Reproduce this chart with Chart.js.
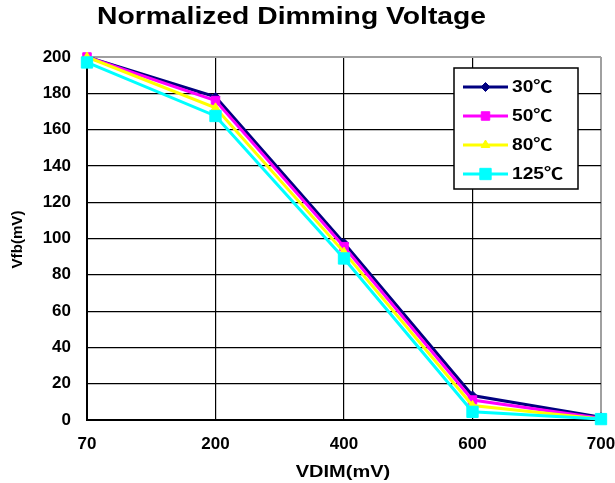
<!DOCTYPE html>
<html>
<head>
<meta charset="utf-8">
<script src="https://cdn.jsdelivr.net/npm/chart.js@4/dist/chart.umd.min.js"></script>
<style>
html,body{margin:0;padding:0;background:#fff;}
#wrap{width:615px;height:483px;position:relative;}
</style>
</head>
<body>
<div id="wrap"><canvas id="c" width="615" height="483"></canvas></div>
<script>
const categories = ['70', '200', '400', '600', '700'];
const seriesNames = ['30\u2103', '50\u2103', '80\u2103', '125\u2103'];
const s30 = [200, 178, 97.5, 13.5, 1.5];
const s50 = [200, 176, 95.5, 11, 1];
const s80 = [200, 172, 92.5, 8, 0.5];
const s125 = [197, 167.5, 89, 4.5, 0.5];
const yTicks = [0, 20, 40, 60, 80, 100, 120, 140, 160, 180, 200];
const titleText = 'Normalized Dimming Voltage';
const xTitle = 'VDIM(mV)';
const yTitle = 'Vfb(mV)';

const FONT = "'Liberation Sans', Arial, 'Noto Sans CJK SC', sans-serif";

const styles = [
  {color: '#000080', pointStyle: 'rectRot', r: 4.5},
  {color: '#FF00FF', pointStyle: 'rect', r: 6},
  {color: '#FFFF00', pointStyle: 'triangle', r: 5},
  {color: '#00FFFF', pointStyle: 'rect', r: 8}
];
const seriesData = [s30, s50, s80, s125];

const datasets = seriesData.map((d, i) => ({
  label: seriesNames[i],
  data: d,
  borderColor: styles[i].color,
  backgroundColor: styles[i].color,
  pointBackgroundColor: styles[i].color,
  pointBorderColor: styles[i].color,
  pointStyle: styles[i].pointStyle,
  pointRadius: styles[i].r,
  pointBorderWidth: 1,
  borderWidth: 3,
  tension: 0,
  clip: false,
  order: 4 - i
}));

function stretchedText(ctx, text, x, y, font, sx, align) {
  ctx.save();
  ctx.font = font;
  ctx.fillStyle = '#000';
  ctx.textBaseline = 'middle';
  ctx.textAlign = 'left';
  const w = ctx.measureText(text).width * sx;
  let x0 = x;
  if (align === 'center') x0 = x - w / 2;
  ctx.translate(x0, y);
  ctx.scale(sx, 1);
  ctx.fillText(text, 0, 0);
  ctx.restore();
}

const textPlugin = {
  id: 'customTexts',
  afterDraw(chart) {
    const ctx = chart.ctx;
    const area = chart.chartArea;
    ctx.save();
    ctx.font = 'bold 23px ' + FONT;
    const tw = ctx.measureText(titleText).width;
    ctx.restore();
    stretchedText(ctx, titleText, 97, 18, 'bold 23px ' + FONT, 389 / tw, 'left');
    stretchedText(ctx, xTitle, 343, 472.5, 'bold 16px ' + FONT, 1.25, 'center');
    ctx.save();
    ctx.translate(18, (area.top + area.bottom) / 2 + 1);
    ctx.rotate(-Math.PI / 2);
    stretchedText(ctx, yTitle, 0, 0, 'bold 14px ' + FONT, 1.08, 'center');
    ctx.restore();
  }
};

const legendPlugin = {
  id: 'customLegend',
  afterDraw(chart) {
    const ctx = chart.ctx;
    ctx.save();
    const bx = 454, by = 68, bw = 124, bh = 121;
    ctx.fillStyle = '#fff';
    ctx.fillRect(bx, by, bw, bh);
    ctx.strokeStyle = '#000';
    ctx.lineWidth = 1.5;
    ctx.strokeRect(bx, by, bw, bh);
    chart.data.datasets.forEach((ds, i) => {
      const y = 87 + i * 29;
      ctx.strokeStyle = ds.borderColor;
      ctx.lineWidth = 3;
      ctx.beginPath();
      ctx.moveTo(463, y);
      ctx.lineTo(508, y);
      ctx.stroke();
      ctx.fillStyle = ds.pointBackgroundColor;
      ctx.strokeStyle = ds.pointBorderColor;
      ctx.lineWidth = 1;
      Chart.helpers.drawPoint(ctx, {pointStyle: ds.pointStyle, radius: ds.pointRadius, rotation: 0, borderWidth: 1}, 485.5, y);
      stretchedText(ctx, ds.label, 512, y + 1, 'bold 16px ' + FONT, 1.2, 'left');
    });
    ctx.restore();
  }
};

new Chart(document.getElementById('c'), {
  type: 'line',
  data: {labels: categories, datasets: datasets},
  plugins: [textPlugin, legendPlugin],
  options: {
    responsive: false,
    animation: false,
    layout: {padding: {top: 57, left: 0, right: 0, bottom: 0}},
    plugins: {
      legend: {display: false},
      title: {display: false},
      tooltip: {enabled: false}
    },
    scales: {
      x: {
        type: 'category',
        offset: false,
        afterFit(scale) { scale.height = 63; scale.paddingRight = 14; scale.paddingLeft = 0; },
        grid: {
          drawTicks: false,
          color: (c) => c.index === categories.length - 1 ? '#a0a0a0' : '#000',
          lineWidth: (c) => c.index === categories.length - 1 ? 2 : 1.2
        },
        border: {color: '#000', width: 2},
        ticks: {
          padding: 14,
          color: '#000',
          maxRotation: 0,
          autoSkip: false,
          font: {family: FONT, size: 17, weight: 'bold'}
        },
        title: {display: false}
      },
      y: {
        min: 0,
        max: 200,
        afterFit(scale) { scale.width = 87; },
        afterBuildTicks(scale) { scale.ticks = yTicks.map(v => ({value: v})); },
        grid: {
          drawTicks: false,
          color: (c) => c.tick && c.tick.value === 200 ? '#a0a0a0' : '#000',
          lineWidth: (c) => c.tick && c.tick.value === 200 ? 2 : 1.2
        },
        border: {color: '#000', width: 2},
        ticks: {
          padding: 16,
          color: '#000',
          font: {family: FONT, size: 17, weight: 'bold'}
        },
        title: {display: false}
      }
    }
  }
});
</script>
</body>
</html>
